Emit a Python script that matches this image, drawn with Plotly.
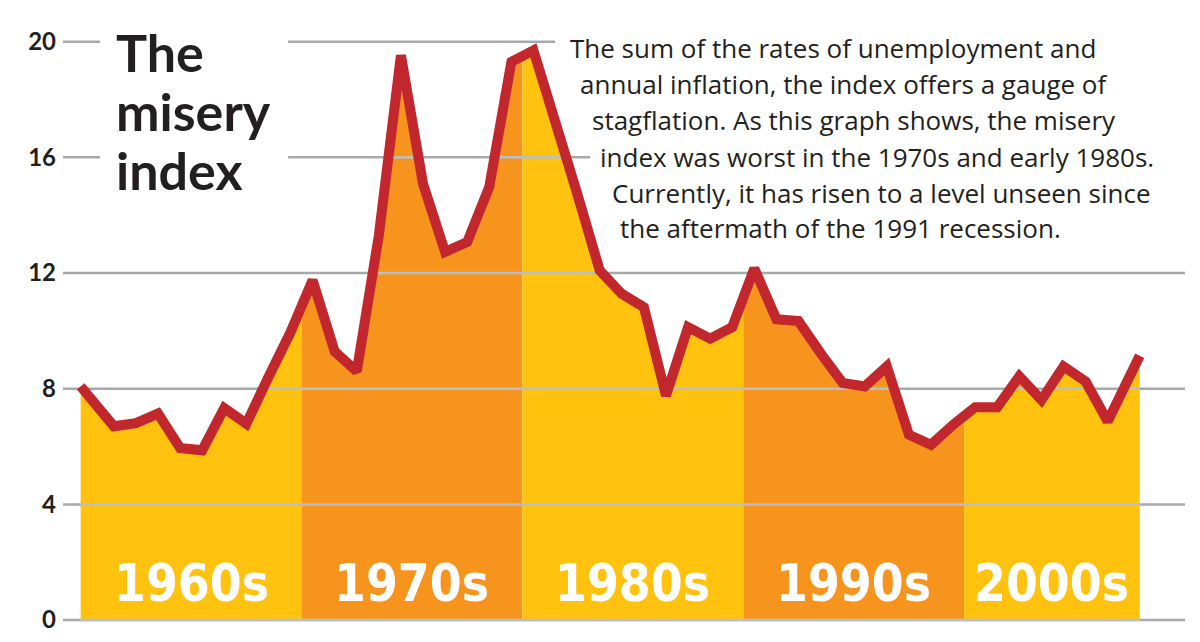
import numpy as np
import plotly.graph_objects as go

# misery index (unemployment + inflation), one value per year
years = list(range(1960, 2008))
misery = [8.08, 6.70, 6.81, 7.14, 5.95, 5.87, 7.33, 6.79, 8.4, 9.95,
          11.75, 9.29, 8.6, 13.3, 19.53, 15.09, 12.73, 13.07, 14.98, 19.3,
          19.7, 17.28, 14.7, 12.09, 11.28, 10.82, 7.76, 10.13, 9.73, 10.13,
          12.16, 10.40, 10.34, 9.23, 8.2, 8.08, 8.77, 6.41, 6.06, 6.75,
          7.36, 7.36, 8.43, 7.61, 8.77, 8.25, 6.87, 9.14]

decades = [1960, 1970, 1980, 1990, 2000]
decade_labels = ["1960s", "1970s", "1980s", "1990s", "2000s"]
yticks = [0, 4, 8, 12, 16, 20]

title_lines = ["The", "misery", "index"]
blurb = ["The sum of the rates of unemployment and",
         "annual inflation, the index offers a gauge of",
         "stagflation. As this graph shows, the misery",
         "index was worst in the 1970s and early 1980s.",
         "Currently, it has risen to a level unseen since",
         "the aftermath of the 1991 recession."]

YELLOW = "#FFC20F"
ORANGE = "#F7941E"
RED = "#C1272D"
GRID = "#A7A9AC"
GRID_ON_FILL = "#B5C0CC"
INK = "#231F20"

# points sit mid-year, the two ends are pinned to the edges of the graphic
span_end = 2007.95
xs = [1960.0] + [y + 0.5 for y in years[1:-1]] + [span_end]
xs = np.array(xs)
ys = np.array(misery)

x_min, x_max = 1959.2, 2010.0

fig = go.Figure()

# area under the curve, coloured by decade
edges = decades + [span_end]
for i in range(len(decades)):
    a, b = edges[i], edges[i + 1]
    inner = (xs > a) & (xs < b)
    px = [a] + list(xs[inner]) + [b]
    py = [np.interp(a, xs, ys)] + list(ys[inner]) + [np.interp(b, xs, ys)]
    fig.add_trace(go.Scatter(x=px, y=py, mode="lines", line=dict(width=0),
                             fill="tozeroy",
                             fillcolor=YELLOW if i % 2 == 0 else ORANGE,
                             hoverinfo="skip", showlegend=False))


def under_curve(level):
    # pieces of a horizontal gridline that lie inside the filled area
    seg = []
    start = xs[0] if ys[0] > level else None
    for k in range(len(xs) - 1):
        xa, ya, xb, yb = xs[k], ys[k], xs[k + 1], ys[k + 1]
        if (ya > level) != (yb > level):
            xc = xa + (level - ya) * (xb - xa) / (yb - ya)
            if ya > level:
                seg += [start, xc, None]
                start = None
            else:
                start = xc
    if start is not None:
        seg += [start, xs[-1], None]
    return seg


for lv in yticks:
    gx = under_curve(lv)
    if not gx:
        continue
    fig.add_trace(go.Scatter(x=gx, y=[lv if v is not None else None for v in gx],
                             mode="lines", line=dict(color=GRID_ON_FILL, width=2.5),
                             hoverinfo="skip", showlegend=False))

fig.add_trace(go.Scatter(x=xs, y=ys, mode="lines",
                         line=dict(color=RED, width=10),
                         hoverinfo="skip", showlegend=False))

# grey gridlines on the white, broken around the texts
grid_runs = {0: [(x_min, x_max)], 4: [(x_min, x_max)], 8: [(x_min, x_max)],
             12: [(x_min, x_max)],
             16: [(x_min, 1960.88), (1969.39, 1983.07)],
             20: [(x_min, 1960.88), (1969.39, 1981.48)]}
for lv, runs in grid_runs.items():
    for a, b in runs:
        fig.add_shape(type="line", x0=a, x1=b, y0=lv, y1=lv, layer="below",
                      line=dict(color=GRID, width=2.5))

# decade names centred in their coloured band
for i, lab in enumerate(decade_labels):
    mid = (edges[i] + edges[i + 1]) / 2
    fig.add_annotation(x=mid, y=1.25, text="<b>" + lab + "</b>", showarrow=False,
                       xanchor="center", yanchor="middle",
                       font=dict(family="DejaVu Sans Condensed, Roboto Condensed, Roboto",
                                 size=51, color="white"))

title_y = [19.64, 17.59, 15.57]
for t, ty in zip(title_lines, title_y):
    fig.add_annotation(x=1961.5, y=ty, text="<b>" + t + "</b>", showarrow=False,
                       xanchor="left", yanchor="middle",
                       font=dict(family="Lato", size=52, color=INK, weight=900))

blurb_x = [1982.07, 1982.52, 1983.07, 1983.43, 1983.98, 1984.34]
blurb_y = [19.78, 18.53, 17.29, 16.01, 14.76, 13.55]
for t, bx, by in zip(blurb, blurb_x, blurb_y):
    fig.add_annotation(x=bx, y=by, text=t, showarrow=False,
                       xanchor="left", yanchor="middle",
                       font=dict(family="Open Sans", size=26, color=INK))

fig.update_layout(
    width=1200, height=642,
    margin=dict(l=55, r=23, t=12, b=10),
    paper_bgcolor="white", plot_bgcolor="white",
    showlegend=False,
)
fig.update_xaxes(range=[x_min, x_max], visible=False)
fig.update_yaxes(range=[-0.69, 20.75], tickvals=yticks, showgrid=False,
                 zeroline=False, showline=False, ticks="",
                 ticklabelstandoff=6,
                 tickfont=dict(family="Lato", size=24, color=INK, weight="bold"))

fig.write_html("out.html")
